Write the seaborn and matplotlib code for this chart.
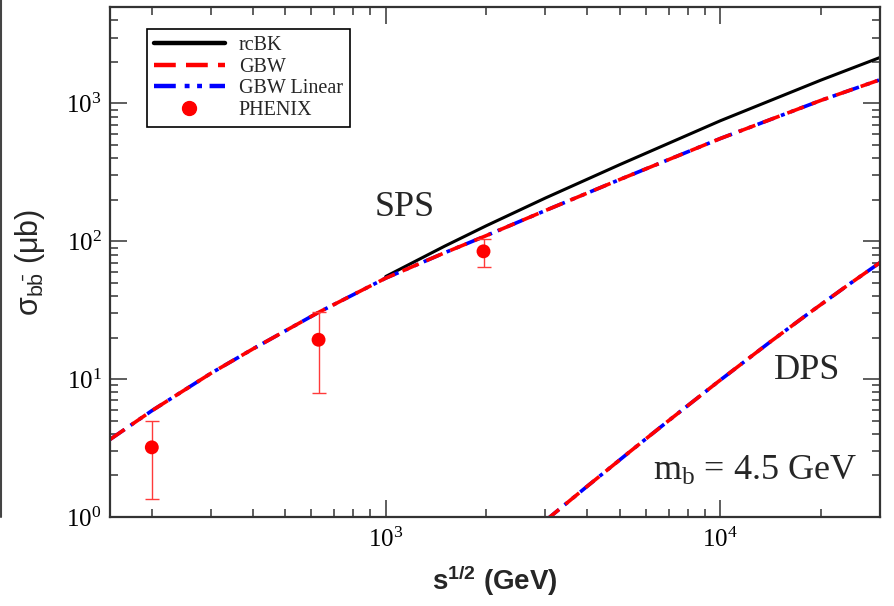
import numpy as np
import pandas as pd
import matplotlib
matplotlib.use("Agg")
import matplotlib.pyplot as plt
import seaborn as sns
from matplotlib.lines import Line2D
from matplotlib.ticker import LogLocator, NullFormatter

# ---------------- data ----------------
sqrt_s_gbw = [150, 200, 300, 400, 630, 1000, 1500, 2000, 3000, 5000, 10000, 20000, 30000]
sigma_gbw = [3.65, 5.9, 11.0, 16.5, 30.5, 54.0, 82.5, 110.0, 167.0, 280.0, 556.0, 1052.0, 1484.0]
sigma_gbw_lin = [3.65, 5.9, 11.0, 16.5, 30.5, 54.0, 82.5, 110.0, 167.0, 280.0, 556.0, 1052.0, 1484.0]

sqrt_s_rcbk = [1000, 1500, 2000, 3000, 5000, 10000, 20000, 30000]
sigma_rcbk = [55.5, 92.1, 129.7, 205.8, 359.0, 748.0, 1476.0, 2152.0]

sqrt_s_dps = [3000, 4000, 5350, 7000, 9780, 14000, 18300, 24000, 30000]
sigma_dps_gbw = [0.94, 1.67, 2.96, 4.99, 9.45, 18.4, 29.8, 47.9, 70.0]
sigma_dps_lin = [0.94, 1.67, 2.96, 4.99, 9.45, 18.4, 29.8, 47.9, 70.0]

data_x = [200, 630, 1960]
data_y = [3.2, 19.3, 84.5]
data_lo = [1.35, 7.9, 65.5]
data_hi = [4.95, 30.5, 103.0]

legend_labels = ['rcBK', 'GBW', 'GBW Linear', 'PHENIX']

# ---------------- style ----------------
sns.set_style("ticks")
plt.rcParams['font.family'] = ['Liberation Serif', 'DejaVu Serif']
plt.rcParams['mathtext.fontset'] = 'custom'
plt.rcParams['mathtext.rm'] = 'Liberation Serif'
plt.rcParams['mathtext.it'] = 'Liberation Serif:italic'

axc = '#333333'
fig = plt.figure(figsize=(8.95, 6.06), dpi=100)
ax = fig.add_axes([110/895, 89/606, 770/895, 510/606])

df_gbw = pd.DataFrame({'x': sqrt_s_gbw, 'gbw': sigma_gbw, 'lin': sigma_gbw_lin})
df_rcbk = pd.DataFrame({'x': sqrt_s_rcbk, 'y': sigma_rcbk})
df_dps = pd.DataFrame({'x': sqrt_s_dps, 'gbw': sigma_dps_gbw, 'lin': sigma_dps_lin})

lw = 2.6
blue_dash = (0, (4.9, 2.0, 1.1, 1.7, 1.1, 1.7))
red_dash = (0, (4.9, 2.3))

sns.lineplot(data=df_rcbk, x='x', y='y', ax=ax, color='black', lw=2.2)
sns.lineplot(data=df_gbw, x='x', y='lin', ax=ax, color='#0000ff', lw=lw)
sns.lineplot(data=df_gbw, x='x', y='gbw', ax=ax, color='#ff0000', lw=lw)
sns.lineplot(data=df_dps, x='x', y='lin', ax=ax, color='#0000ff', lw=lw)
sns.lineplot(data=df_dps, x='x', y='gbw', ax=ax, color='#ff0000', lw=lw)
lines = ax.get_lines()
lines[1].set_linestyle(blue_dash); lines[3].set_linestyle(blue_dash)
lines[2].set_linestyle(red_dash); lines[4].set_linestyle(red_dash)

yerr = [np.array(data_y) - np.array(data_lo), np.array(data_hi) - np.array(data_y)]
ax.errorbar(data_x, data_y, yerr=yerr, fmt='none', ecolor='#ff3a3a', elinewidth=1.0,
            capsize=5, capthick=1.0, zorder=3)
sns.scatterplot(x=data_x, y=data_y, ax=ax, color='#ff0000', s=100, edgecolor='none', zorder=4)

ax.set_xscale('log')
ax.set_yscale('log')
ax.set_xlim(150, 30000)
ax.set_ylim(1, 5000)

for axis in (ax.xaxis, ax.yaxis):
    axis.set_major_locator(LogLocator(base=10))
    axis.set_minor_locator(LogLocator(base=10, subs=np.arange(2, 10)))
    axis.set_minor_formatter(NullFormatter())

ax.tick_params(which='both', direction='in', top=True, right=True, colors=axc, width=1.1)
ax.tick_params(which='major', length=12, labelsize=18, labelcolor='black')
ax.tick_params(which='minor', length=6)
ax.tick_params(axis='x', which='major', pad=8)
ax.tick_params(axis='y', which='major', pad=6)
for lab in ax.get_xticklabels() + ax.get_yticklabels():
    lab.set_fontfamily('Liberation Serif')
for sp in ax.spines.values():
    sp.set_color(axc)
    sp.set_linewidth(1.6)

ax.set_xlabel(r'$\mathdefault{s^{1/2}}$ (GeV)', fontfamily='Liberation Sans',
              fontweight='bold', fontsize=20, labelpad=8)
ax.set_ylabel(r'$\mathdefault{\sigma_{b\bar{b}}}$ (μb)', fontfamily='Liberation Sans',
              fontsize=22, labelpad=14)

ax.text(0.383, 0.590, 'SPS', transform=ax.transAxes, ha='center', va='baseline', fontsize=26)
ax.text(0.906, 0.2706, 'DPS', transform=ax.transAxes, ha='center', va='baseline', fontsize=26)
ax.text(0.8377, 0.0725, r'$\mathdefault{m_b}$ = 4.5 GeV', transform=ax.transAxes,
        ha='center', va='baseline', fontsize=26)

handles = [
    Line2D([], [], color='black', lw=3.2),
    Line2D([], [], color='#ff0000', lw=3.2, linestyle=red_dash),
    Line2D([], [], color='#0000ff', lw=3.2, linestyle=blue_dash),
    Line2D([], [], color='#ff0000', marker='o', ls='none', markersize=10),
]
leg = ax.legend(handles, legend_labels, loc='upper left',
                bbox_to_anchor=(37/770, 1 - 22/510), borderaxespad=0,
                prop={'family': 'Liberation Serif', 'size': 14.5},
                handlelength=3.5, handletextpad=0.7, labelspacing=0.12,
                borderpad=0.35, fancybox=False, framealpha=1, edgecolor='black')
leg.get_frame().set_linewidth(1.2)

fig.add_artist(Line2D([1.5/895, 1.5/895], [1 - 517/606, 1.0], color='#444444', lw=1.5,
                      transform=fig.transFigure))

fig.savefig('out.png', dpi=100)
